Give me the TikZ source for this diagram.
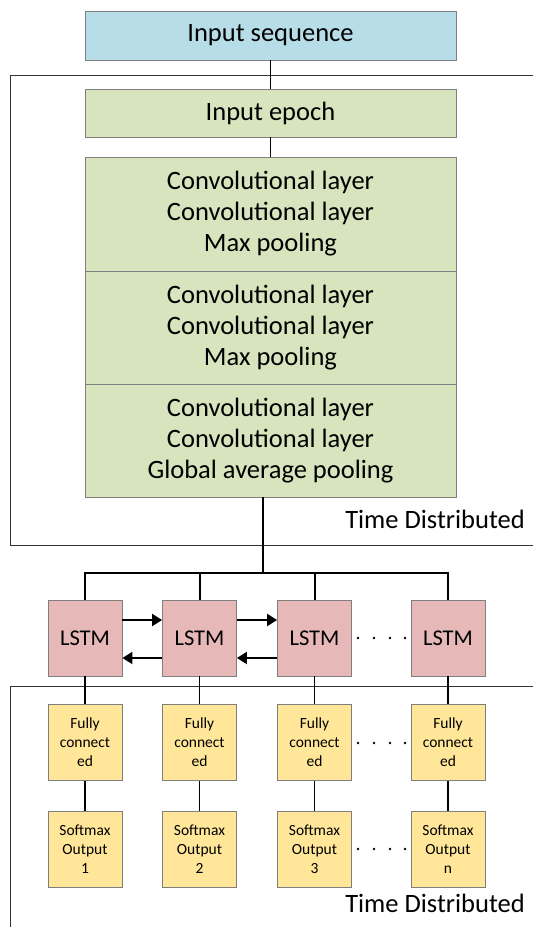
\documentclass[tikz,border=0pt]{standalone}
\usepackage{fontspec}
\setmainfont{Carlito}
\usetikzlibrary{arrows.meta,calc}
\definecolor{seqblue}{HTML}{B7DDE8}
\definecolor{cnngreen}{HTML}{D7E4BD}
\definecolor{lstmpink}{HTML}{E6B9B8}
\definecolor{fcyellow}{HTML}{FFE699}
\definecolor{boxedge}{HTML}{7F7F7F}
\begin{document}
\begin{tikzpicture}[x=1pt,y=-1pt,
  box/.style={draw=boxedge, line width=0.8pt, inner sep=0pt, align=center},
  big/.style={box, minimum width=371pt, font=\fontsize{26.5}{31}\selectfont},
  cell/.style={box, minimum width=74pt, minimum height=76pt},
  lstm/.style={cell, fill=lstmpink, font=\fontsize{22.5}{26}\selectfont},
  small/.style={cell, fill=fcyellow, font=\fontsize{15.5}{19}\selectfont},
  link/.style={line width=1.5pt},
  bus/.style={line width=2pt},
  arr/.style={line width=2pt, -{Triangle[length=10pt,width=12pt]}},
  frame/.style={draw=black!80, line width=0.9pt},
  label/.style={anchor=east, inner sep=0pt, font=\fontsize{26.5}{30}\selectfont},
  dot/.style={fill=black}
]
\useasboundingbox (0,0) rectangle (533,927);
\fill[white] (0,0) rectangle (533,927);

% frames
\draw[frame] (533,75) -- (10,75) -- (10,545) -- (533,545);
\draw[frame] (533,686.5) -- (10,686.5) -- (10,927);

% top stack
\node[big, fill=seqblue, minimum height=49pt] (seq) at (270.5,35.5) {Input sequence};
\node[big, fill=cnngreen, minimum height=48pt] (epoch) at (270.5,113) {Input epoch};
\node[big, fill=cnngreen, minimum height=114pt] (c1) at (270.5,214) {Convolutional layer\\Convolutional layer\\Max pooling};
\node[big, fill=cnngreen, minimum height=113pt] (c2) at (270.5,327.5) {Convolutional layer\\Convolutional layer\\Max pooling};
\node[big, fill=cnngreen, minimum height=113pt] (c3) at (270.5,440.5) {Convolutional layer\\Convolutional layer\\Global average pooling};

\draw[link] (seq.south) -- (epoch.north);
\draw[link] (epoch.south) -- (c1.north);

\node[label] (td1) at (525,519) {Time Distributed};
\node[label] (td2) at (525,903) {Time Distributed};

% LSTM row
\node[lstm] (l1) at (85,638) {LSTM};
\node[lstm] (l2) at (199.5,638) {LSTM};
\node[lstm] (l3) at (314.5,638) {LSTM};
\node[lstm] (l4) at (448,638) {LSTM};

% fully connected row
\node[small] (f1) at (85,742.5) {Fully\\connect\\ed};
\node[small] (f2) at (199.5,742.5) {Fully\\connect\\ed};
\node[small] (f3) at (314.5,742.5) {Fully\\connect\\ed};
\node[small] (f4) at (448,742.5) {Fully\\connect\\ed};

% softmax row
\node[small] (s1) at (85,849) {Softmax\\Output\\1};
\node[small] (s2) at (199.5,849) {Softmax\\Output\\2};
\node[small] (s3) at (314.5,849) {Softmax\\Output\\3};
\node[small] (s4) at (448,849) {Softmax\\Output\\n};

% bus from CNN to LSTMs
\coordinate (top) at ($(c3.south)+(-8,0)$);
\coordinate (hub) at ($(top)+(0,76)$);
\draw[bus] (top) -- (hub);
\draw[bus] (l1.north) -- (l1.north |- hub) -- (l4.north |- hub) -- (l4.north);
\draw[bus] (l2.north |- hub) -- (l2.north);
\draw[bus] (l3.north |- hub) -- (l3.north);

% bidirectional arrows
\draw[arr] ([yshift=18pt]l1.east) -- ([yshift=18pt]l2.west);
\draw[arr] ([yshift=18pt]l2.east) -- ([yshift=18pt]l3.west);
\draw[arr] ([yshift=-20pt]l2.west) -- ([yshift=-20pt]l1.east);
\draw[arr] ([yshift=-20pt]l3.west) -- ([yshift=-20pt]l2.east);

% vertical links
\foreach \i in {1,2,3,4}{
  \draw[link] (l\i.south) -- (f\i.north);
  \draw[link] (f\i.south) -- (s\i.north);
}

% ellipsis dots
\foreach \y in {638,743,849}{
  \foreach \x in {358,374,390,405}{
    \fill[dot] (\x,\y) circle (1.3pt);
  }
}
\end{tikzpicture}
\end{document}
